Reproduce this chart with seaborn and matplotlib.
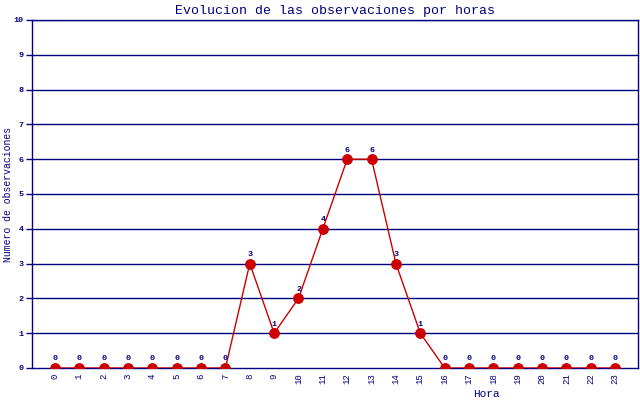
import numpy as np
import pandas as pd
import matplotlib
matplotlib.use("Agg")
import matplotlib.pyplot as plt
import seaborn as sns

# datos: observaciones por hora
horas = list(range(24))
observaciones = [0, 0, 0, 0, 0, 0, 0, 0, 3, 1, 2, 4, 6, 6, 3, 1, 0, 0, 0, 0, 0, 0, 0, 0]

df = pd.DataFrame({"Hora": horas, "Observaciones": observaciones})

azul = "#000080"
rojo = "#cc0000"

sns.set_style("white")
plt.rcParams["font.family"] = ["Liberation Mono", "DejaVu Sans Mono"]

fig = plt.figure(figsize=(6.4, 4), dpi=100)
ax = fig.add_axes([0.05, 0.08, 0.947, 0.87])

for yv in range(1, 11):
    ax.axhline(yv, color=azul, lw=1, zorder=1)

sns.lineplot(data=df, x="Hora", y="Observaciones", ax=ax, color=rojo, lw=1,
             marker="o", markersize=7, markerfacecolor="#cc0000",
             markeredgecolor="#cc0000", zorder=3)

for h, v in zip(horas, observaciones):
    ax.annotate(str(v), (h, v), xytext=(0, 4), textcoords="offset points",
                ha="center", va="bottom", fontsize=6, color=azul,
                fontweight="bold")

ax.set_xlim(-0.94, 23.94)
ax.set_ylim(0, 10)
ax.set_xticks(horas)
ax.set_xticklabels([str(h) for h in horas], rotation=90, fontsize=6.5, color=azul)
ax.set_yticks(range(11))
ax.set_yticklabels([str(i) for i in range(11)], fontsize=6, color=azul,
                   fontweight="bold")
ax.tick_params(axis="x", length=0, pad=4)
ax.tick_params(axis="y", length=4, width=1, color=azul, pad=2, left=True)

for s in ax.spines.values():
    s.set_color(azul)
    s.set_linewidth(1)

ax.set_title("Evolucion de las observaciones por horas", color=azul,
             fontsize=9.5, pad=4)
ax.set_xlabel("Hora", color=azul, fontsize=8)
ax.xaxis.set_label_coords(0.75, -0.06)
ax.set_ylabel("Numero de observaciones", color=azul, fontsize=7)
ax.yaxis.set_label_coords(-0.031, 0.5)

fig.savefig("out.png", dpi=100)
